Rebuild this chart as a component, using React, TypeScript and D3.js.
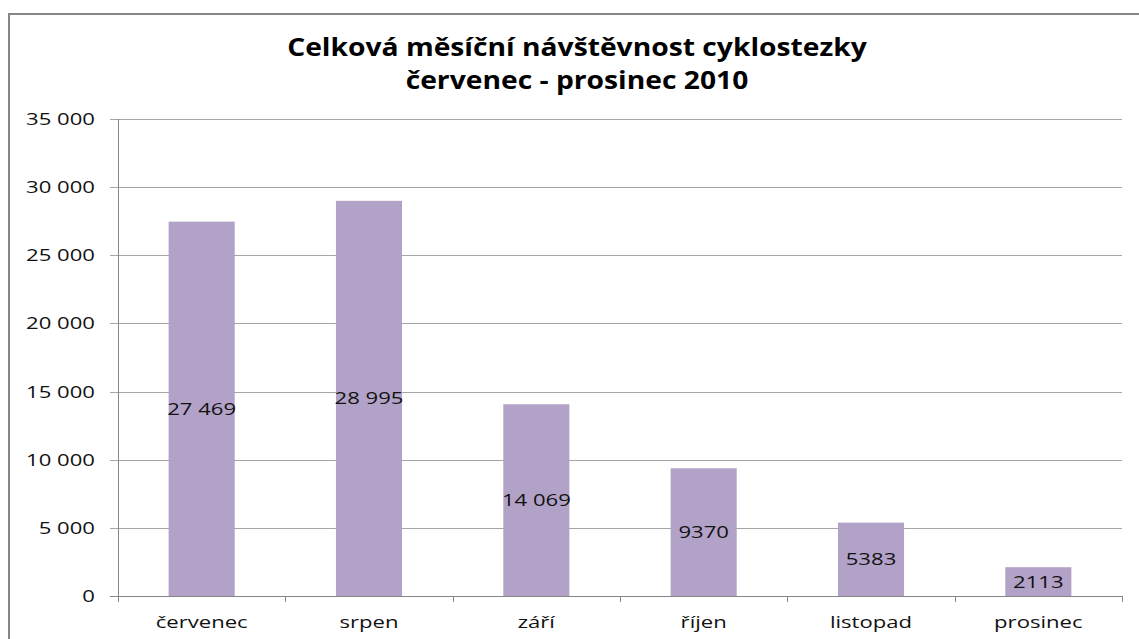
import React from "react";
import * as d3 from "d3";

const months = ["červenec", "srpen", "září", "říjen", "listopad", "prosinec"];
const visits = [27469, 28995, 14069, 9370, 5383, 2113];
const valueLabels = ["27 469", "28 995", "14 069", "9370", "5383", "2113"];
const yTicks = [0, 5000, 10000, 15000, 20000, 25000, 30000, 35000];
const titleLines = ["Celková měsíční návštěvnost cyklostezky", "červenec - prosinec 2010"];

const W = 1139;
const H = 639;
const plot = { left: 118, right: 1122, top: 119, bottom: 596 };
const SX = 1.3;
const FONT = "'Open Sans', sans-serif";

const fmt = (v: number) => {
  const s = String(v);
  return s.length > 3 ? s.slice(0, s.length - 3) + " " + s.slice(-3) : s;
};

export default function App() {
  const x = d3
    .scaleBand<string>()
    .domain(months)
    .range([plot.left, plot.right])
    .paddingInner(0.605)
    .paddingOuter(0.3025);
  const xOuter = d3.scaleBand<string>().domain(months).range([plot.left, plot.right]);
  const y = d3.scaleLinear().domain([0, 35000]).range([plot.bottom, plot.top]);

  const stretched = (tx: number, ty: number, s = SX) => `translate(${tx},${ty}) scale(${s},1)`;

  return (
    <svg
      width={W}
      height={H}
      style={{ position: "absolute", left: 0, top: 0, background: "#fff" }}
    >
      <rect x={0} y={0} width={W} height={H} fill="#fff" />
      {/* chart border */}
      <path d={`M9,${H + 5} L9,14 L${W + 5},14`} fill="none" stroke="#868686" strokeWidth={2} />

      {/* title */}
      {titleLines.map((t, i) => (
        <text
          key={i}
          transform={stretched(577, 56 + i * 33, 1.13)}
          textAnchor="middle"
          fontFamily={FONT}
          fontWeight="bold"
          fontSize={25}
          fill="#000"
        >
          {t}
        </text>
      ))}

      {/* gridlines */}
      {yTicks.map((t) => (
        <line
          key={"g" + t}
          x1={plot.left - 8}
          x2={plot.right}
          y1={Math.round(y(t)) + 0.5}
          y2={Math.round(y(t)) + 0.5}
          stroke={t === 0 ? "#868686" : "#A6A6A6"}
          strokeWidth={1}
        />
      ))}

      {/* y tick labels */}
      {yTicks.map((t) => (
        <text
          key={"yl" + t}
          transform={stretched(95, y(t) + 6)}
          textAnchor="end"
          fontFamily={FONT}
          fontSize={17}
          fill="#111"
        >
          {fmt(t)}
        </text>
      ))}

      {/* bars */}
      {months.map((m, i) => (
        <rect
          key={"b" + m}
          x={x(m)}
          y={y(visits[i])}
          width={x.bandwidth()}
          height={plot.bottom - y(visits[i])}
          fill="#B3A2C7"
        />
      ))}

      {/* y axis */}
      <line x1={plot.left + 0.5} x2={plot.left + 0.5} y1={plot.top} y2={plot.bottom} stroke="#868686" />

      {/* x axis ticks */}
      {[...months.map((m) => xOuter(m) as number), plot.right].map((px, i) => (
        <line
          key={"xt" + i}
          x1={Math.round(px) + 0.5}
          x2={Math.round(px) + 0.5}
          y1={plot.bottom}
          y2={plot.bottom + 6}
          stroke="#868686"
        />
      ))}

      {/* value labels */}
      {months.map((m, i) => (
        <text
          key={"v" + m}
          transform={stretched((x(m) as number) + x.bandwidth() / 2, (y(visits[i]) + plot.bottom) / 2 + 6)}
          textAnchor="middle"
          fontFamily={FONT}
          fontSize={17}
          fill="#111"
        >
          {valueLabels[i]}
        </text>
      ))}

      {/* x labels */}
      {months.map((m) => (
        <text
          key={"xl" + m}
          transform={stretched((xOuter(m) as number) + xOuter.bandwidth() / 2, 628)}
          textAnchor="middle"
          fontFamily={FONT}
          fontSize={17}
          fill="#111"
        >
          {m}
        </text>
      ))}
    </svg>
  );
}
